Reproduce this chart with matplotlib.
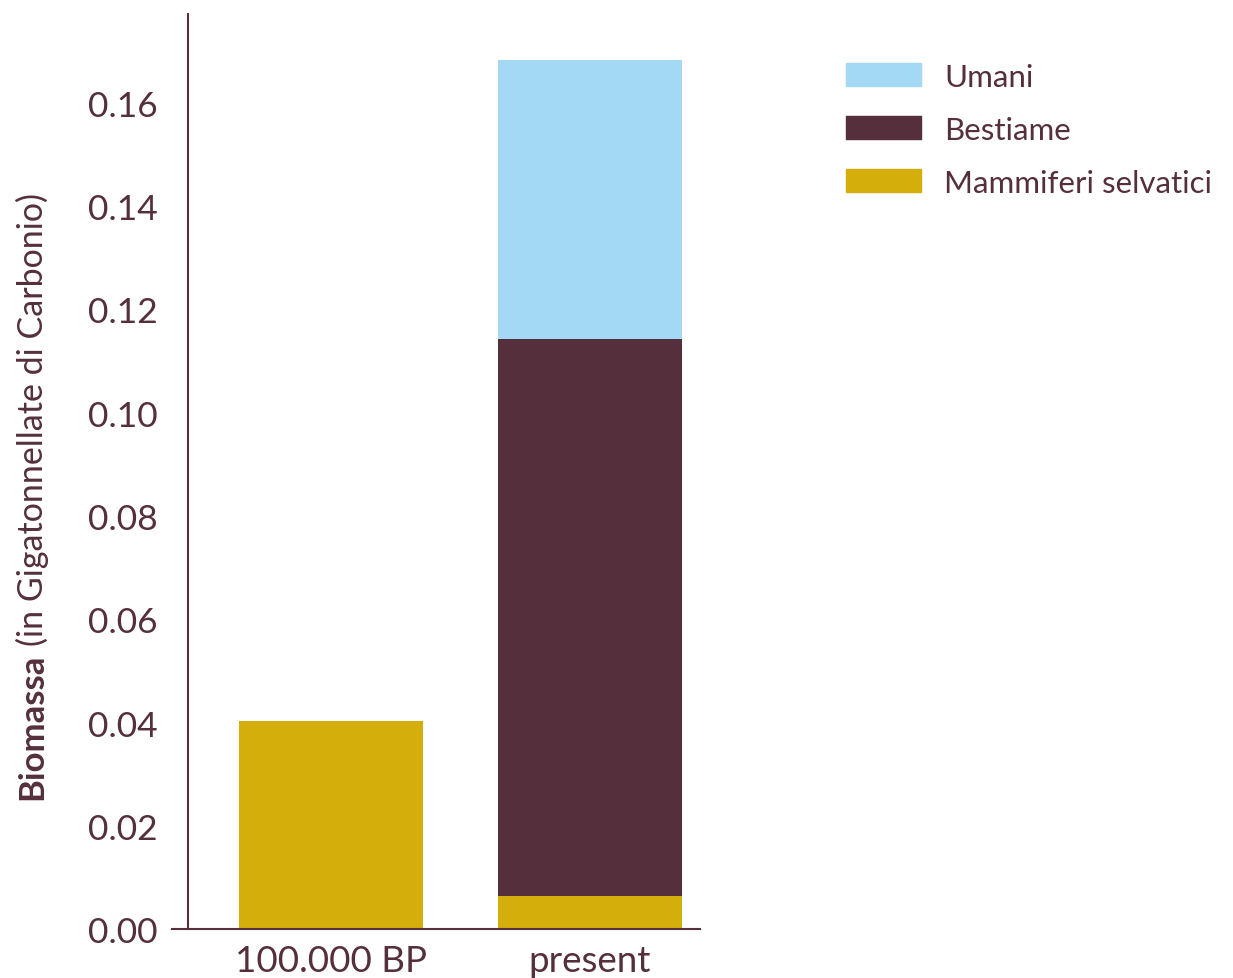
import matplotlib.pyplot as plt
from matplotlib.patches import Patch

# Dati (Gt C)
periodi = ['100.000 BP', 'present']
mammiferi_selvatici = [0.0403, 0.0064]
bestiame = [0.0, 0.1079]
umani = [0.0, 0.054]

testo = '#55303c'
col_umani = '#a3d9f5'
col_bestiame = '#55303c'
col_selv = '#d4af0b'

plt.rcParams['font.family'] = ['Lato', 'DejaVu Sans']

fig = plt.figure(figsize=(12.33, 9.79), dpi=100)
ax = fig.add_axes([0.1395, 0.05, 0.4282, 0.9346])

x = range(len(periodi))
ax.bar(x, mammiferi_selvatici, width=0.71, color=col_selv)
ax.bar(x, bestiame, width=0.71, bottom=mammiferi_selvatici, color=col_bestiame)
base = [a + b for a, b in zip(mammiferi_selvatici, bestiame)]
ax.bar(x, umani, width=0.71, bottom=base, color=col_umani)

ax.set_xlim(-0.614, 1.425)
ax.set_ylim(0, 0.1772)
ax.set_yticks([0, 0.02, 0.04, 0.06, 0.08, 0.10, 0.12, 0.14, 0.16])
ax.set_yticklabels(['0.00', '0.02', '0.04', '0.06', '0.08', '0.10', '0.12', '0.14', '0.16'])
ax.set_xticks(list(x))
ax.set_xticklabels(periodi)

for s in ['top', 'right']:
    ax.spines[s].set_visible(False)
ax.spines['left'].set_position(('axes', 0.03))
for s in ['left', 'bottom']:
    ax.spines[s].set_color(testo)
    ax.spines[s].set_linewidth(1.5)

ax.tick_params(axis='both', length=0, colors=testo, labelsize=25.5)
ax.tick_params(axis='y', pad=22)
ax.tick_params(axis='x', pad=11, labelsize=26.5)

# Etichetta asse y in due pesi
t1 = fig.text(0.026, (979 - 800) / 979, 'Biomassa', rotation=90, ha='center', va='bottom',
              fontsize=25, fontweight='bold', color=testo)
fig.canvas.draw()
bb = t1.get_window_extent()
fig.text(0.026, (bb.y1 + 8) / fig.bbox.height, '(in Gigatonnellate di Carbonio)', rotation=90,
         ha='center', va='bottom', fontsize=24.5, fontweight='normal', color=testo)

# Legenda
maniglie = [Patch(color=col_umani, label='Umani'),
            Patch(color=col_bestiame, label='Bestiame'),
            Patch(color=col_selv, label='Mammiferi selvatici')]
leg = fig.legend(handles=maniglie, loc='upper left', bbox_to_anchor=(0.686, 0.935),
                 frameon=False, fontsize=22.5, handlelength=2.4, handleheight=0.75,
                 handletextpad=0.75, labelspacing=0.8, borderaxespad=0, borderpad=0)
for t in leg.get_texts():
    t.set_color(testo)

plt.savefig('out.png', dpi=100)
